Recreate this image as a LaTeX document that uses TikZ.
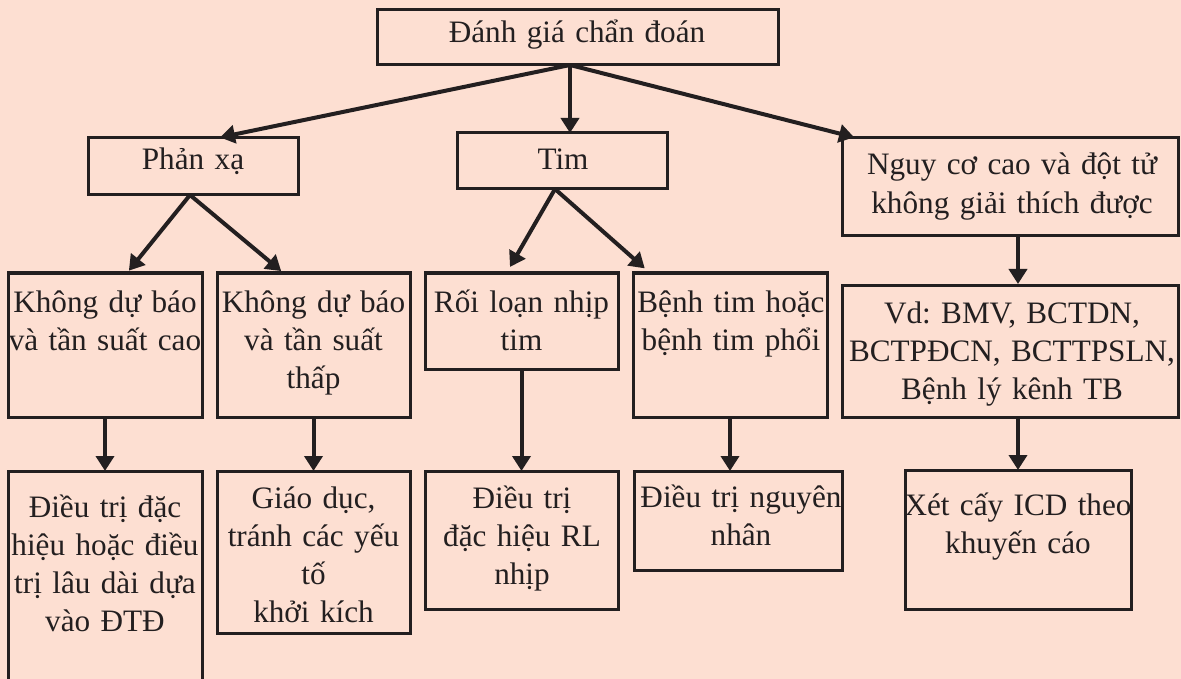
\documentclass[tikz,border=0pt]{standalone}
\usepackage{fontspec}
\setmainfont{Liberation Serif}
\usetikzlibrary{arrows.meta,calc}
\definecolor{paper}{RGB}{253,223,210}
\definecolor{ink}{RGB}{35,31,32}
\frenchspacing
\begin{document}
\begin{tikzpicture}[x=1pt,y=-1pt,
  box/.style={draw=ink,line width=3pt,rectangle,inner sep=0pt,outer sep=0pt,anchor=north west},
  txt/.style={text=ink,text width=340pt,align=center,inner sep=0pt,anchor=base,font=\fontsize{31.2}{38.3}\selectfont},
  arr/.style={draw=ink,line width=4pt,-{Triangle[length=15pt,width=18pt]}}]
\clip (0,0) rectangle (1181,679);
\fill[paper] (0,0) rectangle (1181,679);

% boxes: top level
\node[box,minimum width=401pt,minimum height=55pt] (top) at (377,10) {};
% second level
\node[box,minimum width=210pt,minimum height=57pt] (px) at (88,138) {};
\node[box,minimum width=210pt,minimum height=56pt] (tim) at (457,133) {};
\node[box,minimum width=336pt,minimum height=98pt] (ng) at (842,138) {};
% third level
\node[box,minimum width=194pt,minimum height=144pt] (a) at (8,273) {};
\node[box,minimum width=193pt,minimum height=144pt] (b) at (217,273) {};
\node[box,minimum width=193pt,minimum height=96pt] (c) at (425,273) {};
\node[box,minimum width=194pt,minimum height=144pt] (d) at (633,273) {};
\node[box,minimum width=336pt,minimum height=132pt] (vd) at (842,285) {};
% fourth level
\node[box,minimum width=194pt,minimum height=240pt] (ba) at (8,471) {};
\node[box,minimum width=193pt,minimum height=162pt] (bb) at (217,471) {};
\node[box,minimum width=193pt,minimum height=138pt] (bc) at (425,471) {};
\node[box,minimum width=208pt,minimum height=99pt] (bd) at (634,471) {};
\node[box,minimum width=226pt,minimum height=139pt] (be) at (905,470) {};

% texts
\node[txt] (ttop) at (577,43) {Đánh giá chẩn đoán};
\node[txt] (tpx) at (193,170) {Phản xạ};
\node[txt] (ttim) at (563,170) {Tim};
\node[txt] (tng) at (1012,175) {Nguy cơ cao và đột tử\\không giải thích được};
\node[txt] (ta) at (105,312) {Không dự báo\\và tần suất cao};
\node[txt] (tb) at (313.5,312) {Không dự báo\\và tần suất\\thấp};
\node[txt] (tc) at (521.5,312) {Rối loạn nhịp\\tim};
\node[txt] (td) at (731,312) {Bệnh tim hoặc\\bệnh tim phổi};
\node[txt] (tvd) at (1012,323) {Vd: BMV, BCTDN,\\BCTPĐCN, BCTTPSLN,\\Bệnh lý kênh TB};
\node[txt] (tba) at (105,517) {Điều trị đặc\\hiệu hoặc điều\\trị lâu dài dựa\\vào ĐTĐ};
\node[txt] (tbb) at (313.5,508) {Giáo dục,\\tránh các yếu\\tố\\khởi kích};
\node[txt] (tbc) at (522,508) {Điều trị\\đặc hiệu RL\\nhịp};
\node[txt] (tbd) at (741,507) {Điều trị nguyên\\nhân};
\node[txt] (tbe) at (1018,515) {Xét cấy ICD theo\\khuyến cáo};

% connectors
\draw[arr,shorten >=3pt] ($(top.south)+(-7.5,0)$) -- ($(px.north)+(24,0)$);
\draw[arr] ($(top.south)+(-7.5,0)$) -- ($(tim.north)+(8,0)$);
\draw[arr,shorten >=3pt] ($(top.south)+(-7.5,0)$) -- ($(ng.north west)+(15,0)$);
\draw[arr,shorten >=3pt] ($(px.south)+(-3,0)$) -- ($(a.north)+(22,0)$);
\draw[arr,shorten >=3pt] ($(px.south)+(-3,0)$) -- ($(b.north)+(-30,0)$);
\draw[arr,shorten >=7pt] ($(tim.south)+(-7,0)$) -- ($(c.north)+(-15,0)$);
\draw[arr,shorten >=7pt] ($(tim.south)+(-7,0)$) -- ($(d.north)+(-80,0)$);
\draw[arr,shorten >=1pt] ($(ng.south)+(8,0)$) -- ($(vd.north)+(8,0)$);
\draw[arr] (a.south) -- (ba.north);
\draw[arr] (b.south) -- (bb.north);
\draw[arr] (c.south) -- (bc.north);
\draw[arr] (d.south) -- ($(bd.north)+(-8,0)$);
\draw[arr] ($(vd.south)+(8,0)$) -- (be.north);
\end{tikzpicture}
\end{document}
